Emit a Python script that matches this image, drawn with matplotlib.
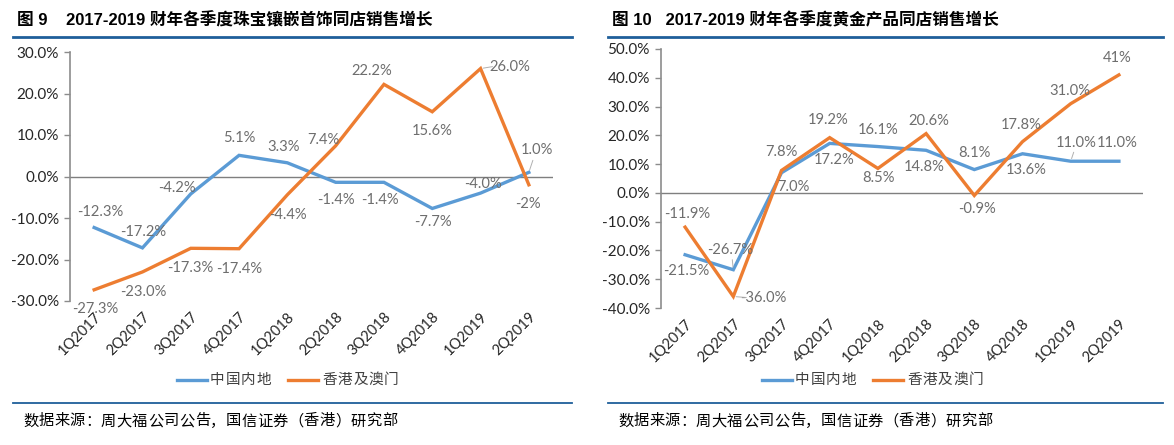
import matplotlib
matplotlib.use("Agg")
import matplotlib.pyplot as plt
from matplotlib.lines import Line2D
import numpy as np

plt.rcParams['font.family'] = ['Lato', 'Noto Sans CJK SC', 'DejaVu Sans']

categories = ['1Q2017', '2Q2017', '3Q2017', '4Q2017', '1Q2018',
              '2Q2018', '3Q2018', '4Q2018', '1Q2019', '2Q2019']

# Figure 9: jewellery SSSG
jew_mainland = [-12.3, -17.2, -4.2, 5.1, 3.3, -1.4, -1.4, -7.7, -4.0, 1.0]
jew_hkmacau = [-27.3, -23.0, -17.3, -17.4, -4.4, 7.4, 22.2, 15.6, 26.0, -2.0]
jew_mainland_lbl = ['-12.3%', '-17.2%', '-4.2%', '5.1%', '3.3%', '-1.4%', '-1.4%', '-7.7%', '-4.0%', '1.0%']
jew_hkmacau_lbl = ['-27.3%', '-23.0%', '-17.3%', '-17.4%', '-4.4%', '7.4%', '22.2%', '15.6%', '26.0%', '-2%']

# Figure 10: gold products SSSG
gold_mainland = [-21.5, -26.7, 7.0, 17.2, 16.1, 14.8, 8.1, 13.6, 11.0, 11.0]
gold_hkmacau = [-11.9, -36.0, 7.8, 19.2, 8.5, 20.6, -0.9, 17.8, 31.0, 41.0]
gold_mainland_lbl = ['-21.5%', '-26.7%', '7.0%', '17.2%', '16.1%', '14.8%', '8.1%', '13.6%', '11.0%', '11.0%']
gold_hkmacau_lbl = ['-11.9%', '-36.0%', '7.8%', '19.2%', '8.5%', '20.6%', '-0.9%', '17.8%', '31.0%', '41%']

series_names = ['中国内地', '香港及澳门']
titles = ['图 9    2017-2019 财年各季度珠宝镶嵌首饰同店销售增长',
          '图 10   2017-2019 财年各季度黄金产品同店销售增长']
source = '数据来源：周大福公司公告，国信证券（香港）研究部'

BLUE = '#5B9BD5'
ORANGE = '#ED7D31'
LBL = '#6e6e6e'
TXT = '#262626'
RULE = '#1F5F9A'

# label offsets in pixels (dx, dy)
left_blue_off = [(6, 16), (1, 16), (-14, 6), (0, 17), (-4, 16), (0, -18), (-4, -18), (1, -14), (2, 9), (8, 22)]
left_orange_off = [(1, -19), (1, -20), (0, -20), (0, -20), (1, -20), (-12, 6), (-12, 13), (0, -19), (29, 2), (-1, -19)]
right_blue_off = [(1, -16), (-3, 20), (12, -14), (4, -17), (0, 17), (-2, -17), (0, 17), (4, -16), (6, 18), (-2, 18)]
right_orange_off = [(2, 13), (30, -2), (0, 18), (-2, 18), (1, -10), (3, 13), (3, -14), (-1, 17), (-1, 13), (-2, 17)]

W, H = 1174, 445
fig = plt.figure(figsize=(W / 100, H / 100), dpi=100)


def px_ax(x0, x1, ytop, ybot):
    return fig.add_axes([x0 / W, 1 - ybot / H, (x1 - x0) / W, (ybot - ytop) / H])


def spaced_text(x_px, y_px, s, pitch, **kw):
    for k, ch in enumerate(s):
        fig.text((x_px + k * pitch) / W, 1 - y_px / H, ch, va='center', ha='left', **kw)


def draw(ax, s1, s2, l1, l2, o1, o2, ylim, yticks):
    x = np.arange(len(categories))
    ax.plot(x, s1, color=BLUE, lw=2.4, solid_joinstyle='miter')
    ax.plot(x, s2, color=ORANGE, lw=2.4, solid_joinstyle='miter')
    ax.axhline(0, color='#7f7f7f', lw=1.0, zorder=0)
    for vals, lbls, offs in ((s1, l1, o1), (s2, l2, o2)):
        for i, (v, t, (dx, dy)) in enumerate(zip(vals, lbls, offs)):
            ax.annotate(t, (i, v), xytext=(dx, dy), textcoords='offset pixels',
                        ha='center', va='center', fontsize=10.6, color=LBL)
    ax.set_xlim(-0.5, len(categories) - 0.5)
    ax.set_ylim(*ylim)
    ax.set_yticks(yticks)
    ax.set_yticklabels([f'{t:.1f}%' for t in yticks], fontsize=11, color=TXT)
    ax.set_xticks(x)
    ax.set_xticklabels(categories, rotation=45, ha='right', rotation_mode='anchor',
                       fontsize=10.5, color=TXT)
    ax.tick_params(axis='x', length=0, pad=6)
    ax.tick_params(axis='y', length=4, color='#8c8c8c', width=1, pad=4)
    for s in ('top', 'right', 'bottom'):
        ax.spines[s].set_visible(False)
    ax.spines['left'].set_color('#8c8c8c')
    ax.spines['left'].set_linewidth(1.2)
    ax.set_facecolor('none')


axL = px_ax(70, 553, 52, 301)
draw(axL, jew_mainland, jew_hkmacau, jew_mainland_lbl, jew_hkmacau_lbl,
     left_blue_off, left_orange_off, (-30, 30), [30, 20, 10, 0, -10, -20, -30])

axR = px_ax(661, 1143, 49, 308)
draw(axR, gold_mainland, gold_hkmacau, gold_mainland_lbl, gold_hkmacau_lbl,
     right_blue_off, right_orange_off, (-40, 50), [50, 40, 30, 20, 10, 0, -10, -20, -30, -40])

# leader lines (thin grey) for a few labels
lead = [(axL, 9, jew_mainland[9], (4, 12)), (axL, 8, jew_hkmacau[8], (12, 2)),
        (axR, 1, gold_hkmacau[1], (13, -1)), (axR, 8, gold_mainland[8], (3, 9)),
        (axR, 1, gold_mainland[1], (-1, 10))]
for ax, i, v, (dx, dy) in lead:
    ax.annotate('', (i, v), xytext=(dx, dy), textcoords='offset pixels',
                arrowprops=dict(arrowstyle='-', color='#b0b0b0', lw=0.7, shrinkA=0, shrinkB=2))

# titles, rules, legends, sources
for x0, x1, title, lx in ((13, 572, titles[0], 177), (608, 1163, titles[1], 762)):
    fig.text(x0 / W + 4 / W, 1 - 20 / H, title, fontsize=12, fontweight='bold',
             color='#000000', va='center', ha='left',
             family=['Liberation Sans', 'Noto Sans CJK SC'])
    fig.add_artist(Line2D([x0 / W, x1 / W], [1 - 37 / H, 1 - 37 / H], color=RULE, lw=2.0))
    fig.add_artist(Line2D([x0 / W, x1 / W], [1 - 403 / H, 1 - 403 / H], color=RULE, lw=1.3))
    spaced_text(x0 + 10, 421, source, 15.6, fontsize=11, color='#000000',
                family=['Noto Sans CJK SC'])
    # legend
    y = 1 - 380 / H
    fig.add_artist(Line2D([lx / W, (lx + 30) / W], [y, y], color=BLUE, lw=2.4))
    spaced_text(lx + 33, 380, series_names[0], 15.5, fontsize=10.5, color='#404040',
                family=['Noto Sans CJK SC'])
    fig.add_artist(Line2D([(lx + 111) / W, (lx + 141) / W], [y, y], color=ORANGE, lw=2.4))
    spaced_text(lx + 145, 380, series_names[1], 15.5, fontsize=10.5, color='#404040',
                family=['Noto Sans CJK SC'])

fig.savefig('out.png', dpi=100)
